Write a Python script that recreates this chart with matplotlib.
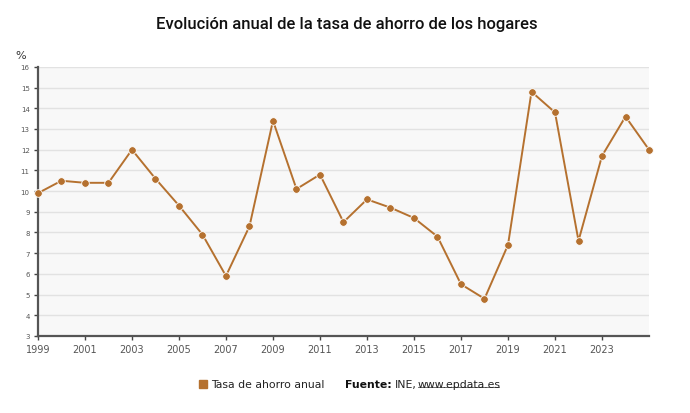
import numpy as np
import matplotlib.pyplot as plt
from matplotlib.lines import Line2D

# datos
anios = list(range(1999, 2026))
tasa = [9.9, 10.5, 10.4, 10.4, 12.0, 10.6, 9.3, 7.9, 5.9, 8.3, 13.4, 10.1, 10.8,
        8.5, 9.6, 9.2, 8.7, 7.8, 5.5, 4.8, 7.4, 14.8, 13.8, 7.6, 11.7, 13.6, 12.0]
ticks_x = list(range(1999, 2024, 2))
ticks_y = list(range(3, 17))

color = '#b5712f'

fig = plt.figure(figsize=(6.9, 4.14), dpi=100)
ax = fig.add_axes([0.055, 0.186, 0.8856, 0.65])
ax.set_facecolor('#f8f8f8')

ax.plot(anios, tasa, color=color, lw=1.4, marker='o', ms=5.5,
        mfc=color, mec='white', mew=0.6, zorder=3, clip_on=False)

ax.set_xlim(1999, 2025)
ax.set_ylim(3, 16)
ax.set_xticks(ticks_x)
ax.set_yticks(ticks_y)
ax.tick_params(axis='x', labelsize=7, colors='#444', length=3, width=1,
               labelcolor='#555', pad=3)
ax.tick_params(axis='y', labelsize=5, colors='#444', length=3, width=1,
               labelcolor='#555', pad=3)
ax.grid(axis='y', color='#e2e2e2', lw=1)
ax.set_axisbelow(True)
for s in ['top', 'right']:
    ax.spines[s].set_visible(False)
for s in ['left', 'bottom']:
    ax.spines[s].set_color('#555')
    ax.spines[s].set_linewidth(1.6)

fig.text(0.503, 0.94, 'Evolución anual de la tasa de ahorro de los hogares',
         ha='center', va='center', fontsize=12, fontweight='medium',
         family='Roboto', color='#111')
fig.text(0.022, 0.865, '%', fontsize=8, color='#333', va='center')

# leyenda y fuente
fs = 7.8
fig.patches.append(plt.Rectangle((0.2885, 0.061), 0.0115, 0.019,
                                 transform=fig.transFigure, color=color))
fig.text(0.306, 0.07, 'Tasa de ahorro anual', fontsize=fs, color='#222', va='center')
t1 = fig.text(0.5, 0.07, 'Fuente:', fontsize=fs, fontweight='bold', color='#111', va='center')
fig.canvas.draw()
r = fig.canvas.get_renderer()
bb = t1.get_window_extent(r).transformed(fig.transFigure.inverted())
t2 = fig.text(bb.x1 + 0.004, 0.07, 'INE,', fontsize=fs, color='#222', va='center')
bb2 = t2.get_window_extent(r).transformed(fig.transFigure.inverted())
t3 = fig.text(bb2.x1 + 0.001, 0.07, 'www.epdata.es', fontsize=fs, color='#222', va='center')
bb3 = t3.get_window_extent(r).transformed(fig.transFigure.inverted())
fig.lines.append(Line2D([bb3.x0 + 0.002, bb3.x1 - 0.002], [bb3.y0 + 0.005, bb3.y0 + 0.005],
                        transform=fig.transFigure, color='#555', lw=0.6))

fig.savefig('out.png', dpi=100)
